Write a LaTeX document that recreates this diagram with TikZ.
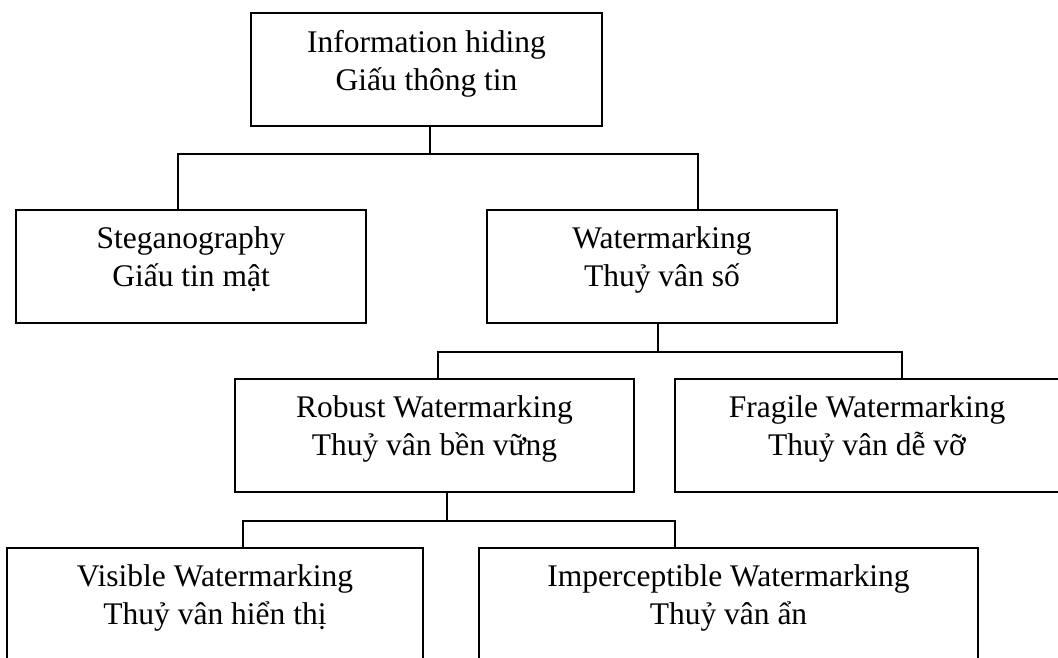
\documentclass[tikz,border=0pt]{standalone}
\usepackage{fontspec}
\setmainfont{Liberation Serif}
\tikzset{
  box/.style={draw, line width=1.8pt, align=center, inner sep=0pt,
    minimum height=113pt, text depth=19pt,
    font=\fontsize{31.5}{38}\selectfont},
  link/.style={line width=1.4pt}
}
\begin{document}
\begin{tikzpicture}[x=1pt,y=-1pt]
\useasboundingbox (0,0) rectangle (1058,657);
\clip (0,0) rectangle (1058,657);
\node[box, minimum width=351] (info) at (426.5,69.5) {Information hiding\\Giấu thông tin};
\node[box, minimum width=350] (steg) at (191,266.5) {Steganography\\Giấu tin mật};
\node[box, minimum width=350] (water) at (662,266.5) {Watermarking\\Thuỷ vân số};
\node[box, minimum width=399] (robust) at (434.5,435.5) {Robust Watermarking\\Thuỷ vân bền vững};
\node[box, minimum width=384] (fragile) at (867,435.5) {Fragile Watermarking\\Thuỷ vân dễ vỡ};
\node[box, minimum width=416] (visible) at (215,604.5) {Visible Watermarking\\Thuỷ vân hiển thị};
\node[box, minimum width=499] (imperc) at (728.5,604.5) {Imperceptible Watermarking\\Thuỷ vân ẩn};

\path[draw,link] ([xshift=3.5]info.south) -- ++(0,27) -| ([xshift=-13]steg.north);
\path[draw,link] ([xshift=3.5]info.south) -- ++(0,27) -| ([xshift=36]water.north);
\path[draw,link] ([xshift=-4]water.south) -- ++(0,28) -| ([xshift=3.5]robust.north);
\path[draw,link] ([xshift=-4]water.south) -- ++(0,28) -| ([xshift=35]fragile.north);
\path[draw,link] ([xshift=12.5]robust.south) -- ++(0,28) -| ([xshift=28]visible.north);
\path[draw,link] ([xshift=12.5]robust.south) -- ++(0,28) -| ([xshift=-53.5]imperc.north);
\end{tikzpicture}
\end{document}
